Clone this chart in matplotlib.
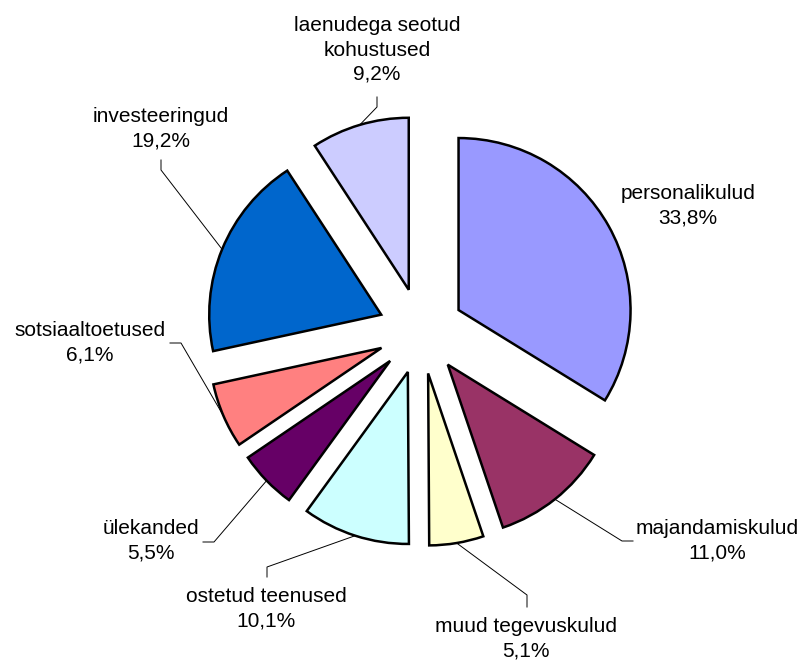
import numpy as np
import matplotlib
matplotlib.use('Agg')
import matplotlib.pyplot as plt

# expenditure structure, shares in percent (clockwise from 12 o'clock)
categories = ['personalikulud', 'majandamiskulud', 'muud tegevuskulud',
              'ostetud teenused', 'ülekanded', 'sotsiaaltoetused',
              'investeeringud', 'laenudega seotud\nkohustused']
shares = [33.8, 11.0, 5.1, 10.1, 5.5, 6.1, 19.2, 9.2]
colors = ['#9999FF', '#993366', '#FFFFCC', '#CCFFFF',
          '#660066', '#FF8080', '#0066CC', '#CCCCFF']

W, H = 805, 661
plt.rcParams['font.family'] = ['Liberation Sans', 'DejaVu Sans']

# label placement in pixel coords from top-left: text centre, leader knee points
label_layout = [
    dict(text=(688, 206), leader=None),
    dict(text=(717, 541), leader=[(633, 541), (622, 541)]),
    dict(text=(526, 639), leader=[(527, 607), (527, 595)]),
    dict(text=(266, 609), leader=[(267, 577), (267, 567)]),
    dict(text=(151, 541), leader=[(203, 542), (214, 542)]),
    dict(text=(90, 343), leader=[(170, 343), (181, 343)]),
    dict(text=(161, 129), leader=[(161, 160), (161, 170)]),
    dict(text=(377, 50), leader=[(377, 97), (377, 107)]),
]

def px(p):
    return p[0], H - p[1]

fig = plt.figure(figsize=(W / 100, H / 100), dpi=100)
ax = fig.add_axes([0, 0, 1, 1])

radius = 172
wedges, _ = ax.pie(shares, colors=colors, radius=radius, center=(421, H - 331),
                   explode=[43] * len(shares), startangle=90, counterclock=False,
                   wedgeprops=dict(edgecolor='black', linewidth=1.8))

for w, name, val, lay in zip(wedges, categories, shares, label_layout):
    txt = name + '\n' + f'{val:.1f}'.replace('.', ',') + '%'
    tx, ty = px(lay['text'])
    ax.text(tx, ty, txt, ha='center', va='center', fontsize=15,
            linespacing=1.35, color='black')
    if lay['leader']:
        mid = np.deg2rad((w.theta1 + w.theta2) / 2)
        cx, cy = w.center
        end = (cx + w.r * np.cos(mid), cy + w.r * np.sin(mid))
        pts = [px(p) for p in lay['leader']] + [end]
        xs, ys = zip(*pts)
        ax.plot(xs, ys, color='black', linewidth=0.7)

ax.set_xlim(0, W)
ax.set_ylim(0, H)
ax.set_aspect('equal')
ax.axis('off')

fig.savefig('out.png', dpi=100, facecolor='white')
